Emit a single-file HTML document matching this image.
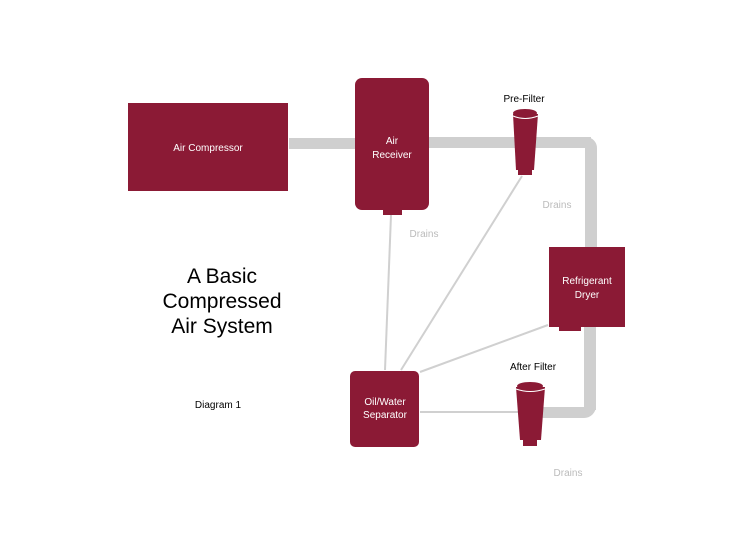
<!DOCTYPE html>
<html><head><style>
body{margin:0;background:#fff;width:750px;height:550px;overflow:hidden}
</style></head><body>
<svg width="750" height="550" viewBox="0 0 750 550" font-family="Liberation Sans, sans-serif">
<g fill="#cfcfcf">
<rect x="289" y="138" width="70" height="11"/>
<rect x="427" y="137" width="90" height="11"/>
<rect x="535" y="137" width="56" height="11"/>
<path d="M580 137 h6 a11 11 0 0 1 11 11 v100 h-12 v-100 h-5z"/>
<rect x="584" y="326" width="12" height="84"/>
<path d="M596 400 v6 a12 12 0 0 1 -12 12 h-44 v-11 h44 v-7z"/>
</g>
<g stroke="#d0d0d0" stroke-width="2" fill="none">
<line x1="391" y1="215" x2="385" y2="370"/>
<line x1="522" y1="176" x2="401" y2="370"/>
<line x1="548" y1="325" x2="420" y2="372"/>
<line x1="420" y1="412" x2="518" y2="412"/>
</g>
<g fill="#8b1a35">
<rect x="128" y="103" width="160" height="88"/>
<rect x="355" y="78" width="74" height="132" rx="7"/>
<rect x="383" y="208" width="19" height="7"/>
<rect x="549" y="247" width="76" height="80"/>
<rect x="559" y="325" width="22" height="6"/>
<rect x="350" y="371" width="69" height="76" rx="5"/>
<path d="M513 114 L538 114 L534 170 L516 170Z"/>
<ellipse cx="525" cy="113" rx="12" ry="4"/>
<rect x="518" y="168" width="14" height="7"/>
<path d="M516 387 L545 387 L541 440 L520 440Z"/>
<ellipse cx="530" cy="386" rx="13" ry="4"/>
<rect x="523" y="438" width="14" height="8"/>
</g>
<g stroke="#fff" stroke-width="1" fill="none">
<path d="M513 116 Q525 121 538 116"/>
<path d="M516 389 Q530 394 545 389"/>
</g>
<g fill="#fff" font-size="10" text-anchor="middle">
<text x="208" y="151">Air Compressor</text>
<text x="392" y="144">Air</text>
<text x="392" y="158">Receiver</text>
<text x="587" y="284">Refrigerant</text>
<text x="587" y="298">Dryer</text>
<text x="385" y="405">Oil/Water</text>
<text x="385" y="418">Separator</text>
</g>
<g fill="#000" font-size="10" text-anchor="middle">
<text x="524" y="102">Pre-Filter</text>
<text x="533" y="370">After Filter</text>
<text x="218" y="408">Diagram 1</text>
</g>
<g fill="#bbb" font-size="10" text-anchor="middle">
<text x="424" y="237">Drains</text>
<text x="557" y="208">Drains</text>
<text x="568" y="476">Drains</text>
</g>
<g fill="#000" font-size="21" text-anchor="middle">
<text x="222" y="283">A Basic</text>
<text x="222" y="308">Compressed</text>
<text x="222" y="333">Air System</text>
</g>
</svg>
</body></html>
